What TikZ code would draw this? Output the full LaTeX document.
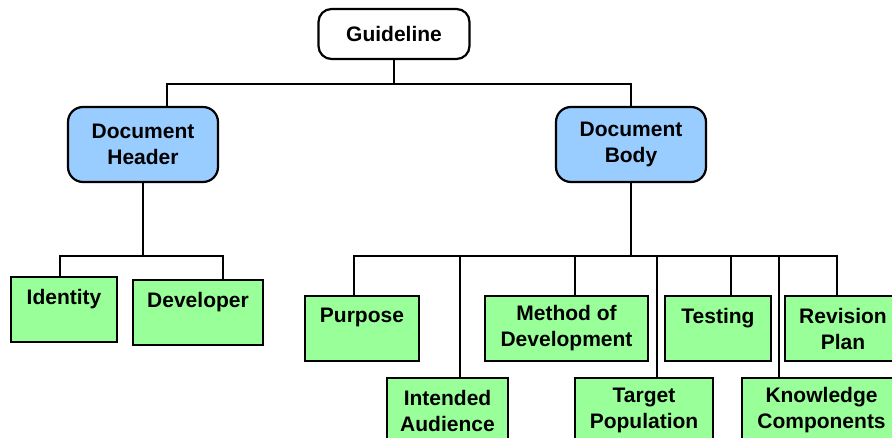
\documentclass[tikz,border=0pt]{standalone}
\usepackage{fontspec}
\setmainfont{Liberation Sans}
\usetikzlibrary{arrows.meta, calc}
\definecolor{headblue}{RGB}{153,204,255}
\definecolor{leafgreen}{RGB}{153,255,153}

\begin{document}
\begin{tikzpicture}[x=1pt,y=-1pt,
        box/.style={draw, line width=2.2pt, align=center, inner sep=0pt,
            font=\bfseries\fontsize{21}{26}\selectfont},
        root/.style={box, rounded corners=13pt, fill=white, minimum width=151pt, minimum height=50pt},
        part/.style={box, rounded corners=15pt, fill=headblue, minimum width=150pt, minimum height=75pt},
        leaf/.style={box, fill=leafgreen, minimum height=65pt},
        link/.style={line width=1.8pt}]
    \clip (0,0) rectangle (892,438);
    \fill[white] (0,0) rectangle (892,438);
    \node[root] (guide) at (394,34) {Guideline};
    \node[part] (head) at (143,144.5) {Document\\Header};
    \node[part] (body) at (631,144.5) {Document\\Body};
    \node[leaf, minimum width=106pt] (ident) at (64,309.5) {Identity\\~};
    \node[leaf, minimum width=130pt] (dev) at (198,312.5) {Developer\\~};
    \node[leaf, minimum width=114pt] (purp) at (362,328.5) {Purpose\\~};
    \node[leaf, minimum width=121pt] (aud) at (447.5,410.5) {Intended\\Audience};
    \node[leaf, minimum width=163pt] (meth) at (566.5,328.5) {Method of\\Development};
    \node[leaf, minimum width=138pt] (pop) at (644,410.5) {Target\\Population};
    \node[leaf, minimum width=106pt] (test) at (718,328.5) {Testing\\~};
    \node[leaf, minimum width=159pt] (know) at (821.5,410.5) {Knowledge\\Components};
    \node[leaf, minimum width=116pt] (rev) at (843,328.5) {Revision\\Plan};
    \draw[link] (guide.south) -- ++(0,24) coordinate (gbus)
        (gbus) -| ([xshift=24pt]head.north) (gbus) -| (body.north);
    \draw[link] (head.south) -- ++(0,73) coordinate (hbus)
        (hbus) -| ([xshift=-4pt]ident.north) (hbus) -| ([xshift=25pt]dev.north);
    \draw[link] (body.south) -- ++(0,73) coordinate (bbus);
    \foreach \n/\dx in {purp/-8, aud/12.5, meth/8.5, pop/13, test/13, know/-42.5, rev/-6}
        \draw[link] (bbus) -| ([xshift=\dx pt]\n.north);
\end{tikzpicture}
\end{document}
